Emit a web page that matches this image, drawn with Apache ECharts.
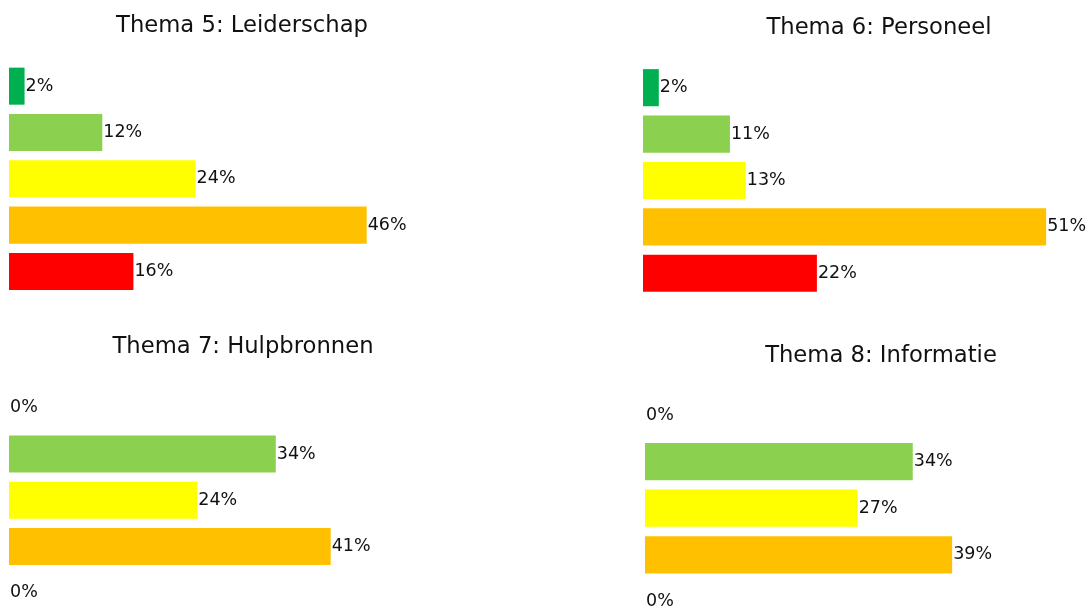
<!DOCTYPE html>
<html>
<head>
<meta charset="utf-8">
<script src="https://cdn.jsdelivr.net/npm/echarts@6/dist/echarts.min.js"></script>
<style>
  html, body { margin: 0; padding: 0; background: #fff; }
  #main { width: 1088px; height: 608px; }
</style>
</head>
<body>
<div id="main"></div>
<script>
// data
var titles = ['Thema 5: Leiderschap', 'Thema 6: Personeel', 'Thema 7: Hulpbronnen', 'Thema 8: Informatie'];
var categories = ['Zeer goed', 'Goed', 'Voldoende', 'Matig', 'Onvoldoende'];
var colors = ['#00B050', '#8BD14F', '#FFFF00', '#FFC000', '#FF0000'];
var thema5 = [2, 12, 24, 46, 16];
var thema6 = [2, 11, 13, 51, 22];
var thema7 = [0, 34, 24, 41, 0];
var thema8 = [0, 34, 27, 39, 0];
// axis upper limit per panel (px per % differs slightly)
var xMax = [55.3, 54.4, 54.8, 54.6];

var chart = echarts.init(document.getElementById('main'));

// layout per panel
var panels = [
    { cx: 242, ty: 15, left: 9, top: 63.0, height: 231.6 },
    { cx: 879, ty: 17, left: 643, top: 64.5, height: 232 },
    { cx: 243, ty: 336, left: 9, top: 384.7, height: 231 },
    { cx: 881, ty: 345, left: 645, top: 391.7, height: 233 }
];
var allData = [thema5, thema6, thema7, thema8];
var font = 'DejaVu Sans';

var option = {
    animation: false,
    backgroundColor: '#fff',
    title: [],
    grid: [],
    xAxis: [],
    yAxis: [],
    series: []
};

panels.forEach(function (p, i) {
    option.title.push({
        text: titles[i],
        left: p.cx,
        top: p.ty,
        textAlign: 'center',
        padding: 0,
        textStyle: { fontFamily: font, fontSize: 22.7, fontWeight: 'normal', color: '#111' }
    });
    option.grid.push({
        left: p.left, top: p.top, width: 430, height: p.height,
        outerBoundsMode: 'none'
    });
    option.xAxis.push({ type: 'value', gridIndex: i, min: 0, max: xMax[i], show: false });
    option.yAxis.push({ type: 'category', gridIndex: i, data: categories, inverse: true, show: false });
    option.series.push({
        type: 'bar',
        xAxisIndex: i,
        yAxisIndex: i,
        barCategoryGap: '20%',
        data: allData[i].map(function (v, j) {
            return { value: v, itemStyle: { color: colors[j] } };
        }),
        label: {
            show: true,
            position: 'right',
            distance: 1,
            formatter: '{c}%',
            fontFamily: font,
            fontSize: 17.5,
            color: '#111'
        }
    });
});

chart.setOption(option);
</script>
</body>
</html>
